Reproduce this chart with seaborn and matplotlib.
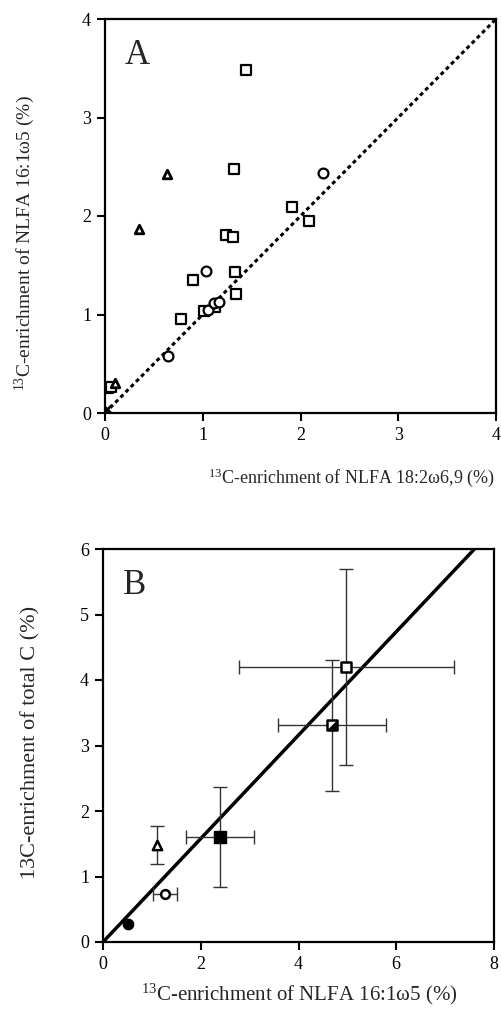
import numpy as np
import pandas as pd
import matplotlib
matplotlib.use("Agg")
import matplotlib.pyplot as plt
import seaborn as sns

# ---------------- Panel A data ----------------
a_sq_x = [1.44, 1.32, 1.91, 2.09, 1.24, 1.31, 1.33, 1.34, 0.90, 0.78, 1.01, 1.13, 0.03, 0.06]
a_sq_y = [3.48, 2.48, 2.09, 1.95, 1.81, 1.79, 1.43, 1.21, 1.35, 0.95, 1.04, 1.08, 0.25, 0.26]
a_ci_x = [2.23, 1.03, 0.64, 1.05, 1.11, 1.17]
a_ci_y = [2.44, 1.44, 0.58, 1.05, 1.12, 1.13]
a_tr_x = [0.63, 0.35, 0.10]
a_tr_y = [2.43, 1.87, 0.30]
a_cr_x = [0.02]
a_cr_y = [0.04]
a_line = [0, 4]
a_ticks = [0, 1, 2, 3, 4]

# ---------------- Panel B data ----------------
b_groups = ["open_sq", "half_sq", "filled_sq", "open_tri", "open_ci", "filled_ci"]
b_x = [4.98, 4.69, 2.39, 1.11, 1.27, 0.52]
b_y = [4.20, 3.31, 1.60, 1.48, 0.74, 0.28]
b_xerr = [2.2, 1.1, 0.70, 0.0, 0.25, 0.0]
b_yerr = [1.5, 1.0, 0.76, 0.29, 0.0, 0.0]
b_line_x = [0, 7.6]
b_line_y = [0, 6.0]
b_xticks = [0, 2, 4, 6, 8]
b_yticks = [0, 1, 2, 3, 4, 5, 6]

sns.set_theme(style="ticks")
plt.rcParams['font.family'] = ['Liberation Serif', 'DejaVu Serif']
plt.rcParams['mathtext.fontset'] = 'custom'
plt.rcParams['mathtext.rm'] = 'Liberation Serif'
plt.rcParams['mathtext.it'] = 'Liberation Serif:italic'

fig = plt.figure(figsize=(5.01, 10.19), dpi=100)
axA = fig.add_axes([105/501, 1-413/1019, (496-105)/501, (413-19)/1019])
axB = fig.add_axes([103/501, 1-942/1019, (494-103)/501, (942-549)/1019])

def style_ax(ax):
    for s in ax.spines.values():
        s.set_linewidth(1.6)
        s.set_color('black')
    ax.tick_params(direction='out', length=6, width=1.5, colors='black',
                   labelsize=13, pad=4)
    ax.set_xlabel('')
    ax.set_ylabel('')

# Panel A
sns.lineplot(x=a_line, y=a_line, ax=axA, color='black', lw=2.2,
             linestyle=(0, (1.3, 1.1)))
mk = dict(color='white', edgecolor='black', linewidth=1.6, zorder=3)
sns.scatterplot(x=a_sq_x, y=a_sq_y, marker='s', s=55, ax=axA, **mk)
sns.scatterplot(x=a_ci_x, y=a_ci_y, marker='o', s=50, ax=axA, **mk)
sns.scatterplot(x=a_tr_x, y=a_tr_y, marker='^', s=38, ax=axA,
                color='white', edgecolor='black', linewidth=2.0, zorder=3)
sns.scatterplot(x=a_cr_x, y=a_cr_y, marker='x', s=40, ax=axA,
                color='black', linewidth=1.8, zorder=3)
axA.set_xlim(0, 4)
axA.set_ylim(0, 4)
axA.set_xticks(a_ticks)
axA.set_yticks(a_ticks)
style_ax(axA)
axA.text(0.05, 0.95, 'A', transform=axA.transAxes, fontsize=25,
         ha='left', va='top')

# Panel B
sns.lineplot(x=b_line_x, y=b_line_y, ax=axB, color='black', lw=2.5)
ebkw = dict(fmt='none', ecolor='#333333', elinewidth=1.0, capsize=5,
            capthick=1.0, zorder=2)
for xi, yi, xe, ye in zip(b_x, b_y, b_xerr, b_yerr):
    if xe > 0:
        axB.errorbar([xi], [yi], xerr=[xe], **ebkw)
    if ye > 0:
        axB.errorbar([xi], [yi], yerr=[ye], **ebkw)
dfB = pd.DataFrame({'x': b_x, 'y': b_y, 'g': b_groups})
sel = lambda g: dfB[dfB.g == g]
sns.scatterplot(data=sel('open_sq'), x='x', y='y', marker='s', s=60, ax=axB,
                color='white', edgecolor='black', linewidth=1.8, zorder=4)
sns.scatterplot(data=sel('half_sq'), x='x', y='y', marker='s', s=60, ax=axB,
                color='white', edgecolor='black', linewidth=1.8, zorder=4)
half_tri = [(-1, -1), (1, -1), (1, 1), (-1, -1)]
sns.scatterplot(data=sel('half_sq'), x='x', y='y', marker=half_tri, s=30,
                ax=axB, color='black', edgecolor='black', linewidth=0.5, zorder=5)
sns.scatterplot(data=sel('filled_sq'), x='x', y='y', marker='s', s=80, ax=axB,
                color='black', edgecolor='black', linewidth=1.0, zorder=4)
sns.scatterplot(data=sel('open_tri'), x='x', y='y', marker='^', s=45, ax=axB,
                color='white', edgecolor='black', linewidth=1.8, zorder=4)
sns.scatterplot(data=sel('open_ci'), x='x', y='y', marker='o', s=40, ax=axB,
                color='white', edgecolor='black', linewidth=1.8, zorder=4)
sns.scatterplot(data=sel('filled_ci'), x='x', y='y', marker='o', s=55, ax=axB,
                color='black', edgecolor='black', linewidth=1.0, zorder=4)
axB.set_xlim(0, 8)
axB.set_ylim(0, 6)
axB.set_xticks(b_xticks)
axB.set_yticks(b_yticks)
style_ax(axB)
axB.text(0.05, 0.95, 'B', transform=axB.transAxes, fontsize=25,
         ha='left', va='top')

# Axis labels
fig.text(495/501, 1-478/1019, r'$^{13}$C-enrichment of NLFA 18:2ω6,9 (%)',
         ha='right', va='center', fontsize=13)
fig.text(25/501, 1-243/1019, r'$^{13}$C-enrichment of NLFA 16:1ω5 (%)',
         ha='center', va='center', rotation=90, fontsize=14)
fig.text(299/501, 1-994/1019, r'$^{13}$C-enrichment of NLFA 16:1ω5 (%)',
         ha='center', va='center', fontsize=15)
fig.text(31/501, 1-742/1019, '13C-enrichment of total C (%)',
         ha='center', va='center', rotation=90, fontsize=16)

fig.savefig('out.png', dpi=100)
